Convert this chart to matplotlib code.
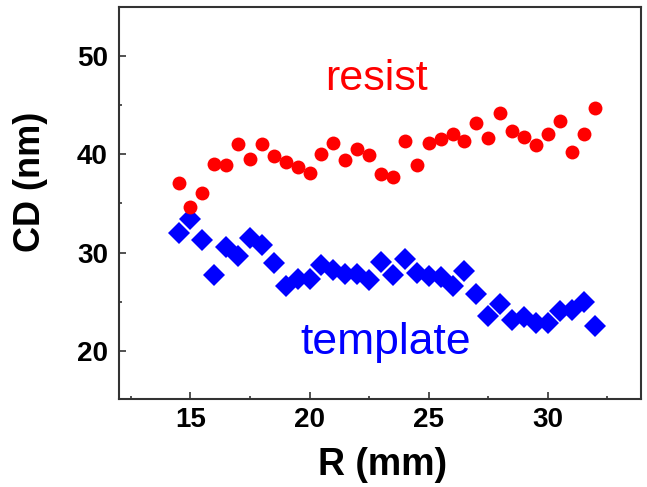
import matplotlib
matplotlib.use("Agg")
import matplotlib.pyplot as plt
from matplotlib.ticker import MultipleLocator

plt.rcParams['font.family'] = ['Liberation Sans', 'DejaVu Sans']

R_mm = [14.5, 15.0, 15.5, 16.0, 16.5, 17.0, 17.5, 18.0, 18.5, 19.0, 19.5, 20.0,
        20.5, 21.0, 21.5, 22.0, 22.5, 23.0, 23.5, 24.0, 24.5, 25.0, 25.5, 26.0,
        26.5, 27.0, 27.5, 28.0, 28.5, 29.0, 29.5, 30.0, 30.5, 31.0, 31.5, 32.0]
resist_cd = [37.1, 34.6, 36.1, 39.0, 38.9, 41.0, 39.5, 41.0, 39.8, 39.25, 38.7, 38.1,
             40.0, 41.1, 39.4, 40.5, 39.9, 38.0, 37.7, 41.35, 38.85, 41.1, 41.5, 42.1,
             41.3, 43.2, 41.65, 44.2, 42.4, 41.7, 40.9, 42.1, 43.35, 40.25, 42.1, 44.7]
template_cd = [31.95, 33.4, 31.3, 27.7, 30.6, 29.6, 31.45, 30.8, 28.9, 26.6, 27.3, 27.3,
               28.75, 28.2, 27.8, 27.8, 27.2, 29.05, 27.7, 29.3, 27.95, 27.6, 27.5, 26.6,
               28.15, 25.8, 23.5, 24.8, 23.1, 23.4, 22.8, 22.85, 24.0, 24.15, 25.0, 22.5]

fig = plt.figure(figsize=(6.47, 4.87), dpi=100)
ax = fig.add_axes([119/647, 88/487, (640.7-119)/647, (399-6.7)/487])

ax.plot(R_mm, template_cd, linestyle='none', marker='D', markersize=11,
        color='#0000ff', markeredgewidth=0)
ax.plot(R_mm, resist_cd, linestyle='none', marker='o', markersize=10,
        color='#ff0000', markeredgewidth=0)

ax.set_xlim(12, 33.9)
ax.set_ylim(15.1, 55)
ax.xaxis.set_major_locator(MultipleLocator(5))
ax.xaxis.set_minor_locator(MultipleLocator(2.5))
ax.yaxis.set_major_locator(MultipleLocator(10))
ax.yaxis.set_minor_locator(MultipleLocator(5))

for s in ax.spines.values():
    s.set_linewidth(1.5)
    s.set_color('#333333')

ax.tick_params(which='both', direction='in', top=False, right=False, color='#333333')
ax.tick_params(which='major', length=5, width=1.2, labelsize=20)
ax.tick_params(axis='y', which='major', pad=8)
ax.tick_params(axis='x', which='major', pad=6)
ax.tick_params(which='minor', length=2.5, width=1.2)
for lab in ax.get_xticklabels() + ax.get_yticklabels():
    lab.set_fontweight('bold')

ax.set_xlabel('R (mm)', fontsize=27, fontweight='bold')
ax.set_ylabel('CD (nm)', fontsize=26, fontweight='bold')
ax.xaxis.label.set_verticalalignment('center')
ax.yaxis.label.set_verticalalignment('center')
ax.xaxis.set_label_coords(0.505, -0.168)
ax.yaxis.set_label_coords(-0.17, 0.553)

ax.text(22.83, 46.5, 'resist', color='#ff0000', fontsize=31, ha='center', va='baseline')
ax.text(23.2, 19.7, 'template', color='#0000ff', fontsize=32, ha='center', va='baseline')

fig.savefig('out.png', dpi=100)
